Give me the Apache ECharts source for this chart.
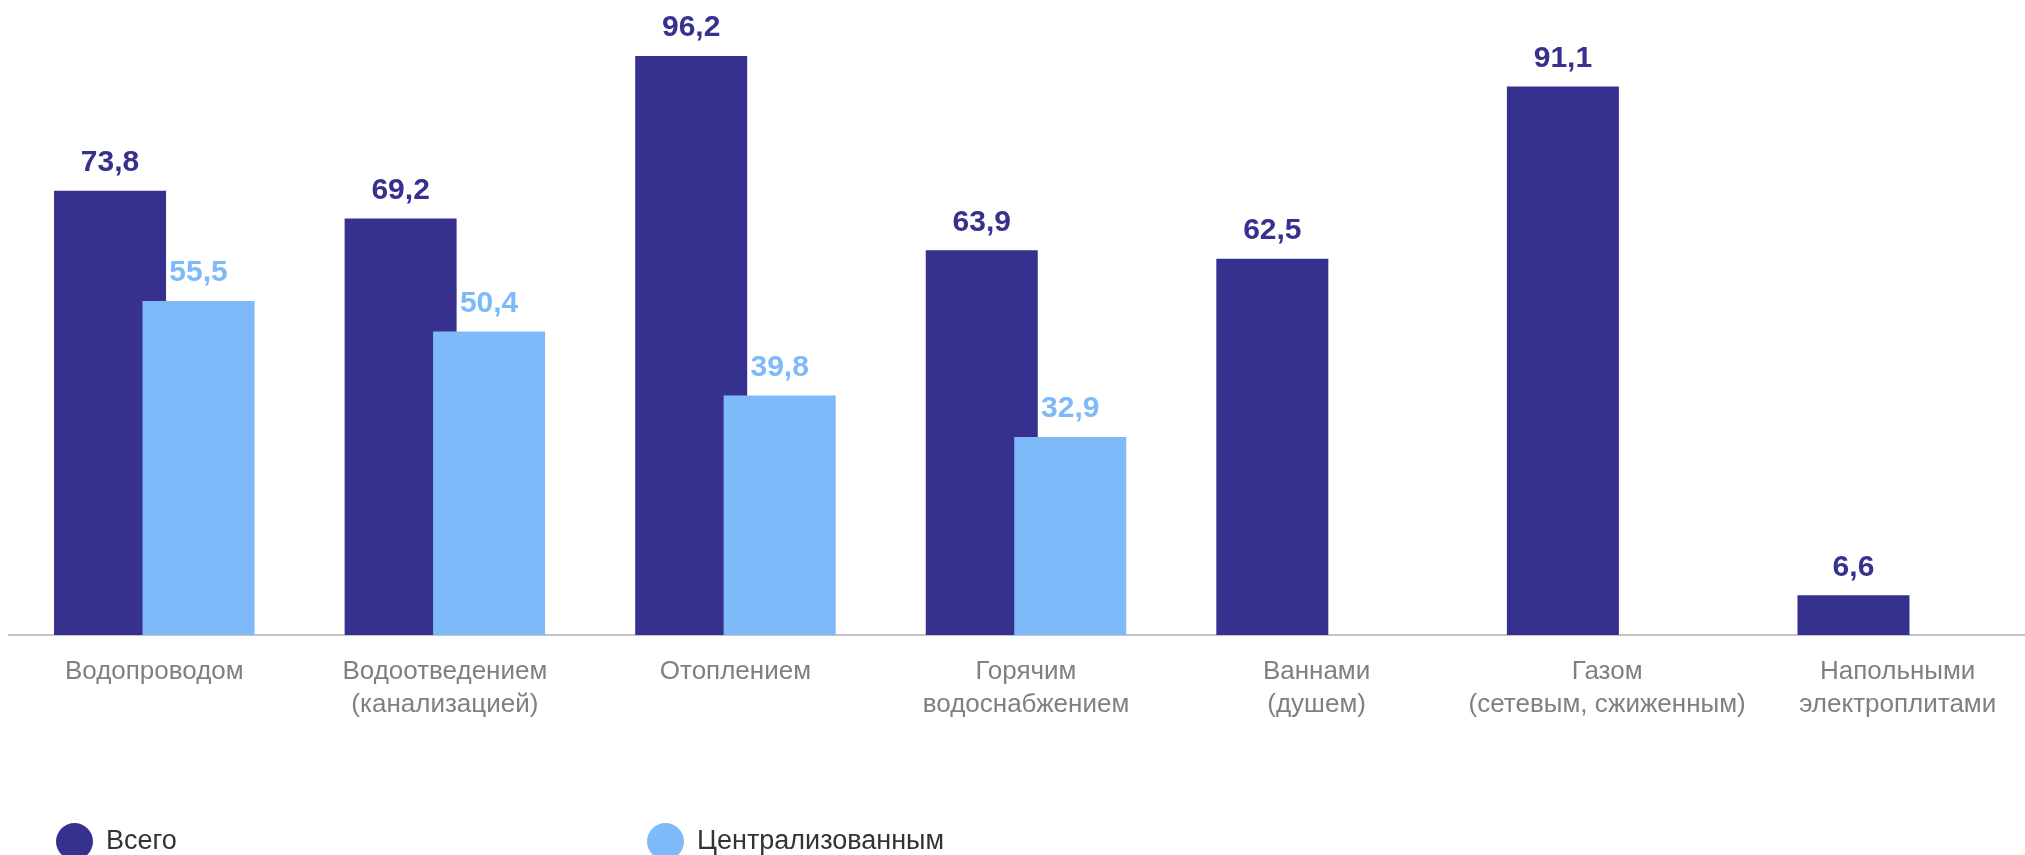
<!DOCTYPE html>
<html>
<head>
<meta charset="utf-8">
<script src="https://cdn.jsdelivr.net/npm/echarts@6/dist/echarts.min.js"></script>
<style>
html,body{margin:0;padding:0;background:#fff;}
#chart{width:2025px;height:855px;}
</style>
</head>
<body>
<div id="chart"></div>
<script>
const categories = [
  "Водопроводом",
  "Водоотведением\n(канализацией)",
  "Отоплением",
  "Горячим\nводоснабжением",
  "Ваннами\n(душем)",
  "Газом\n(сетевым, сжиженным)",
  "Напольными\nэлектроплитами"
];
const seriesNames = ["Всего", "Централизованным"];
const totalValues = [73.8, 69.2, 96.2, 63.9, 62.5, 91.1, 6.6];
const centralValues = [55.5, 50.4, 39.8, 32.9, null, null, null];

const DARK = "#36318F";
const LIGHT = "#7EB9FA";
const FONT = "'Liberation Sans', Arial, sans-serif";
const fmt = p => (p.value == null ? "" : String(p.value.toFixed(1)).replace(".", ","));

const chart = echarts.init(document.getElementById("chart"));
chart.setOption({
  animation: false,
  backgroundColor: "#ffffff",
  grid: { left: 9, top: 33, width: 2034, height: 602, containLabel: false, outerBoundsMode: "none" },
  xAxis: {
    type: "category",
    data: categories,
    axisLine: { show: true, lineStyle: { color: "#C4C4C4", width: 2 } },
    axisTick: { show: false },
    axisLabel: {
      color: "#808080",
      fontFamily: FONT,
      fontSize: 26,
      lineHeight: 33,
      margin: 20,
      interval: 0
    }
  },
  yAxis: {
    type: "value",
    min: 0,
    max: 100,
    show: false,
    splitLine: { show: false }
  },
  legend: [
    {
      data: [seriesNames[0]],
      left: 51, top: 818,
      icon: "circle", itemWidth: 37, itemHeight: 37,
      textStyle: { color: "#333333", fontSize: 27, fontFamily: FONT, padding: [4, 0, 0, 8] }
    },
    {
      data: [seriesNames[1]],
      left: 642, top: 818,
      icon: "circle", itemWidth: 37, itemHeight: 37,
      textStyle: { color: "#333333", fontSize: 27, fontFamily: FONT, padding: [4, 0, 0, 8] }
    }
  ],
  series: [
    {
      name: seriesNames[0],
      type: "bar",
      data: totalValues,
      barWidth: 112,
      barGap: "-21%",
      itemStyle: { color: DARK },
      label: {
        show: true, position: "top", distance: 13,
        color: DARK, fontWeight: "bold", fontSize: 30,
        fontFamily: FONT,
        formatter: fmt
      }
    },
    {
      name: seriesNames[1],
      type: "bar",
      data: centralValues,
      barWidth: 112,
      itemStyle: { color: LIGHT },
      label: {
        show: true, position: "top", distance: 13,
        color: LIGHT, fontWeight: "bold", fontSize: 30,
        fontFamily: FONT,
        formatter: fmt
      }
    }
  ]
});
</script>
</body>
</html>
